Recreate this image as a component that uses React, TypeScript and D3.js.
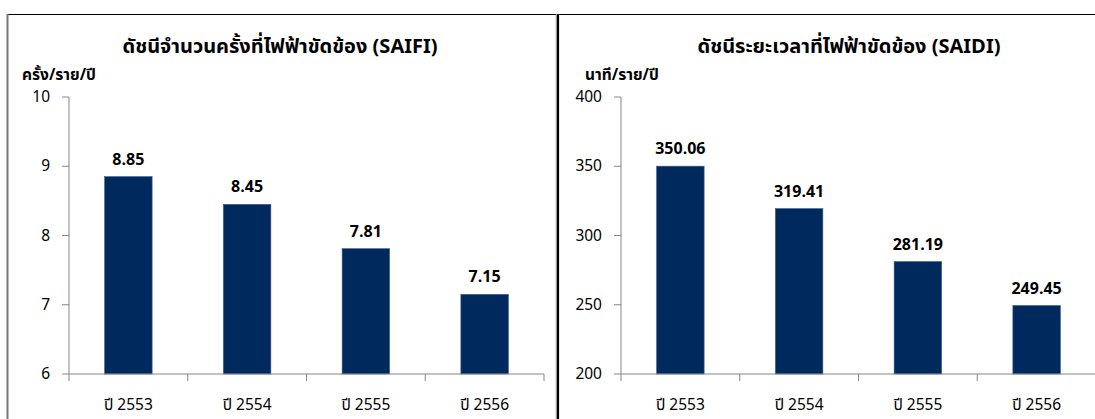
import React from "react";
import * as d3 from "d3";

const categories = ["ปี 2553", "ปี 2554", "ปี 2555", "ปี 2556"];
const saifiValues = [8.85, 8.45, 7.81, 7.15];
const saidiValues = [350.06, 319.41, 281.19, 249.45];
const saifiTicks = [6, 7, 8, 9, 10];
const saidiTicks = [200, 250, 300, 350, 400];

const FONT = "Tahoma, 'Noto Sans Thai', 'Noto Sans', 'DejaVu Sans', sans-serif";
const AXIS = "#868686";
const BAR = "#002A5E";

type PanelProps = {
  title: string;
  unit: string;
  values: number[];
  ticks: number[];
  domain: [number, number];
  axisX: number;
  axisEnd: number;
  titleX: number;
  unitX: number;
};

function Panel(p: PanelProps) {
  const top = 97;
  const bottom = 374;
  const x = d3.scaleBand<string>().domain(categories).range([p.axisX, p.axisEnd]).paddingInner(0.6).paddingOuter(0.3);
  const y = d3.scaleLinear().domain(p.domain).range([bottom, top]);
  const fmt = d3.format(".2f");
  const boundaries = d3.range(categories.length + 1).map((i) => p.axisX + (i * (p.axisEnd - p.axisX)) / categories.length);
  return (
    <g>
      <text x={p.titleX} y={53} textAnchor="middle" fontFamily={FONT} fontWeight="bold" fontSize={20}>{p.title}</text>
      <text x={p.unitX} y={80} fontFamily={FONT} fontWeight="bold" fontSize={15.5}>{p.unit}</text>
      {p.values.map((v, i) => (
        <g key={i}>
          <rect x={x(categories[i])} y={y(v)} width={x.bandwidth()} height={bottom - y(v)} fill={BAR} stroke="#3a5a8a" strokeWidth={0.6} />
          <text x={(x(categories[i]) as number) + x.bandwidth() / 2} y={y(v) - 12} textAnchor="middle" fontFamily={FONT} fontWeight="bold" fontSize={16}>{fmt(v)}</text>
          <text x={(x(categories[i]) as number) + x.bandwidth() / 2} y={410} textAnchor="middle" fontFamily={FONT} fontSize={15.5}>{categories[i]}</text>
        </g>
      ))}
      <line x1={p.axisX} x2={p.axisX} y1={top} y2={bottom} stroke={AXIS} strokeWidth={1} />
      <line x1={p.axisX} x2={p.axisEnd} y1={bottom} y2={bottom} stroke={AXIS} strokeWidth={1} />
      {p.ticks.map((t) => (
        <g key={t}>
          <line x1={p.axisX - 7} x2={p.axisX} y1={y(t)} y2={y(t)} stroke={AXIS} strokeWidth={1} />
          <text x={p.axisX - 19} y={y(t) + 5} textAnchor="end" fontFamily={FONT} fontSize={15.5}>{t}</text>
        </g>
      ))}
      {boundaries.map((b, i) => (
        <line key={i} x1={b} x2={b} y1={bottom} y2={bottom + 7} stroke={AXIS} strokeWidth={1} />
      ))}
    </g>
  );
}

export default function App() {
  return (
    <svg width={1095} height={419} style={{ position: "absolute", left: 0, top: 0, background: "#fff" }}>
      <rect x={0} y={0} width={1095} height={419} fill="#fff" />
      <line x1={7} x2={1095} y1={14.5} y2={14.5} stroke="#000" strokeWidth={1.2} />
      <line x1={7.5} x2={7.5} y1={14} y2={419} stroke="#777" strokeWidth={2} />
      <line x1={557.5} x2={557.5} y1={14} y2={419} stroke="#999" strokeWidth={3.5} />
      <line x1={558} x2={558} y1={14} y2={419} stroke="#000" strokeWidth={2} />
      <Panel
        title="ดัชนีจำนวนครั้งที่ไฟฟ้าขัดข้อง (SAIFI)"
        unit="ครั้ง/ราย/ปี"
        values={saifiValues}
        ticks={saifiTicks}
        domain={[6, 10]}
        axisX={69}
        axisEnd={544}
        titleX={280}
        unitX={22}
      />
      <Panel
        title="ดัชนีระยะเวลาที่ไฟฟ้าขัดข้อง (SAIDI)"
        unit="นาที/ราย/ปี"
        values={saidiValues}
        ticks={saidiTicks}
        domain={[200, 400]}
        axisX={621}
        axisEnd={1096}
        titleX={849}
        unitX={585}
      />
    </svg>
  );
}
